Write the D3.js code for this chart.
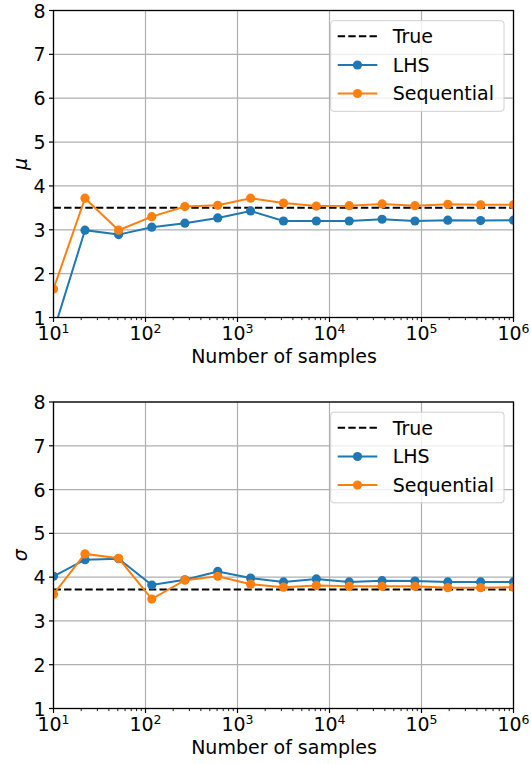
<!DOCTYPE html>
<html>
<head>
<meta charset="utf-8">
<script src="https://cdn.jsdelivr.net/npm/d3@7"></script>
<style>
  body { margin: 0; background: #fff; }
  svg { display: block; font-family: "DejaVu Sans", sans-serif; }
</style>
</head>
<body>
<svg width="531" height="764"></svg>
<script>
// sample counts (logspace 10 .. 1e6, 15 steps)
const samples = [10, 22, 51, 117, 268, 610, 1389, 3162, 7196, 16378, 37275, 84834, 193069, 439397, 1000000];

const muLHS = [0.68, 2.99, 2.89, 3.06, 3.15, 3.27, 3.43, 3.20, 3.20, 3.20, 3.24, 3.20, 3.22, 3.21, 3.22];
const muSeq = [1.65, 3.72, 2.99, 3.30, 3.53, 3.56, 3.72, 3.61, 3.54, 3.55, 3.59, 3.55, 3.58, 3.57, 3.57];
const muTrue = 3.5;

const sigmaLHS = [4.02, 4.40, 4.42, 3.82, 3.94, 4.13, 3.98, 3.89, 3.96, 3.89, 3.92, 3.91, 3.89, 3.89, 3.89];
const sigmaSeq = [3.61, 4.53, 4.43, 3.50, 3.93, 4.02, 3.84, 3.77, 3.81, 3.79, 3.79, 3.79, 3.76, 3.76, 3.77];
const sigmaTrue = 3.72;

const yTicks = [1, 2, 3, 4, 5, 6, 7, 8];
const xTicks = [1e1, 1e2, 1e3, 1e4, 1e5, 1e6];
const seriesNames = ["True", "LHS", "Sequential"];

const blue = "#1f77b4", orange = "#ff7f0e";
const fs = 19;

const svg = d3.select("svg");
const left = 53.5, right = 513.5;

const panels = [
  { sym: "\u03bc", lhs: muLHS, seq: muSeq, truth: muTrue, top: 10.5, bottom: 317.5 },
  { sym: "\u03c3", lhs: sigmaLHS, seq: sigmaSeq, truth: sigmaTrue, top: 402, bottom: 708.5 }
];

const x = d3.scaleLog().domain([10, 1e6]).range([left, right]);

// minor ticks 2..9 per decade
const minor = [];
for (let e = 1; e < 6; e++) for (let m = 2; m < 10; m++) minor.push(m * Math.pow(10, e));

panels.forEach((p, pi) => {
  const y = d3.scaleLinear().domain([1, 8]).range([p.bottom, p.top]);
  const g = svg.append("g");

  g.append("clipPath").attr("id", "clip" + pi)
    .append("rect").attr("x", left).attr("y", p.top)
    .attr("width", right - left).attr("height", p.bottom - p.top);

  // grid
  g.append("g").selectAll("line").data(yTicks).enter().append("line")
    .attr("x1", left).attr("x2", right)
    .attr("y1", d => y(d)).attr("y2", d => y(d))
    .attr("stroke", "#b0b0b0").attr("stroke-width", 1.2);
  g.append("g").selectAll("line").data(xTicks).enter().append("line")
    .attr("y1", p.top).attr("y2", p.bottom)
    .attr("x1", d => x(d)).attr("x2", d => x(d))
    .attr("stroke", "#b0b0b0").attr("stroke-width", 1.2);

  const plot = g.append("g").attr("clip-path", "url(#clip" + pi + ")");

  // true value
  plot.append("line")
    .attr("x1", x(10)).attr("x2", x(1e6))
    .attr("y1", y(p.truth)).attr("y2", y(p.truth))
    .attr("stroke", "#000").attr("stroke-width", 2)
    .attr("stroke-dasharray", "7.4,3.2");

  const line = d3.line().x((d, i) => x(samples[i])).y(d => y(d));
  [[p.lhs, blue], [p.seq, orange]].forEach(([vals, c]) => {
    plot.append("path").datum(vals)
      .attr("d", line).attr("fill", "none")
      .attr("stroke", c).attr("stroke-width", 2);
    plot.append("g").selectAll("circle").data(vals).enter().append("circle")
      .attr("cx", (d, i) => x(samples[i])).attr("cy", d => y(d))
      .attr("r", 4.6).attr("fill", c);
  });

  // frame
  g.append("rect").attr("x", left).attr("y", p.top)
    .attr("width", right - left).attr("height", p.bottom - p.top)
    .attr("fill", "none").attr("stroke", "#000").attr("stroke-width", 1.3);

  // y ticks
  const yt = g.append("g").selectAll("g").data(yTicks).enter().append("g");
  yt.append("line").attr("x1", left - 4.5).attr("x2", left)
    .attr("y1", d => y(d)).attr("y2", d => y(d))
    .attr("stroke", "#000").attr("stroke-width", 1.2);
  yt.append("text").attr("x", left - 8).attr("y", d => y(d) + 7)
    .attr("text-anchor", "end")
    .attr("font-size", fs).text(d => d);

  // x ticks
  g.append("g").selectAll("line").data(minor).enter().append("line")
    .attr("x1", d => x(d)).attr("x2", d => x(d))
    .attr("y1", p.bottom).attr("y2", p.bottom + 2.6)
    .attr("stroke", "#000").attr("stroke-width", 0.9);
  const xt = g.append("g").selectAll("g").data(xTicks).enter().append("g");
  xt.append("line").attr("x1", d => x(d)).attr("x2", d => x(d))
    .attr("y1", p.bottom).attr("y2", p.bottom + 4.5)
    .attr("stroke", "#000").attr("stroke-width", 1.2);
  const lab = xt.append("text").attr("x", d => x(d)).attr("y", p.bottom + 22)
    .attr("text-anchor", "middle").attr("font-size", fs);
  lab.append("tspan").text("10");
  lab.append("tspan").attr("dy", -6.5).attr("font-size", 12.5)
    .text(d => Math.round(Math.log10(d)));

  // axis labels
  g.append("text").attr("x", (left + right) / 2 + 0.5).attr("y", p.bottom + 45)
    .attr("text-anchor", "middle").attr("font-size", fs).text("Number of samples");
  g.append("text")
    .attr("transform", `translate(27,${(p.top + p.bottom) / 2}) rotate(-90)`)
    .attr("text-anchor", "middle").attr("font-size", fs)
    .attr("font-style", "italic").text(p.sym);

  // legend
  const lx = 330.7, ly = p.top + 10.2;
  const lg = g.append("g").attr("transform", `translate(${lx},${ly})`);
  lg.append("rect").attr("width", 173.3).attr("height", 90.6).attr("rx", 3)
    .attr("fill", "#fff").attr("fill-opacity", 0.8)
    .attr("stroke", "#d0d0d0").attr("stroke-width", 1);
  const rows = [15.5, 44.3, 72.8];
  seriesNames.forEach((name, i) => {
    const ry = rows[i];
    const l = lg.append("line").attr("x1", 7).attr("x2", 46.6)
      .attr("y1", ry).attr("y2", ry).attr("stroke-width", 2);
    if (i === 0) {
      l.attr("stroke", "#000").attr("stroke-dasharray", "7.4,3.2");
    } else {
      const c = i === 1 ? blue : orange;
      l.attr("stroke", c);
      lg.append("circle").attr("cx", 26.8).attr("cy", ry).attr("r", 4.6).attr("fill", c);
    }
    lg.append("text").attr("x", 62).attr("y", ry).attr("dominant-baseline", "central")
      .attr("font-size", fs).text(name);
  });
});
</script>
</body>
</html>
